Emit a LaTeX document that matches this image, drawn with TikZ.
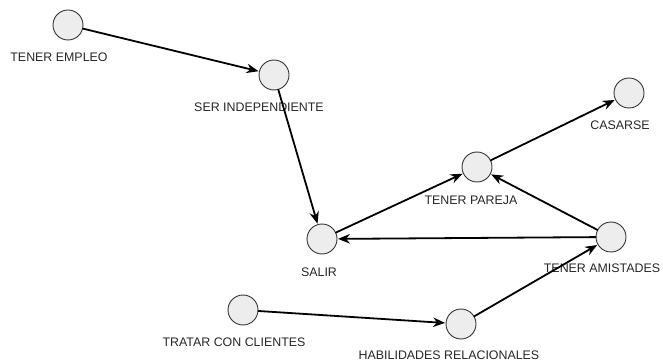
\documentclass[tikz,border=0pt]{standalone}
\usepackage{fontspec}
\setmainfont{Liberation Sans}
\usetikzlibrary{arrows.meta}
\colorlet{NodoFill}{black!7}
\colorlet{NodoLine}{black!80}
\begin{document}
\begin{tikzpicture}[x=1pt, y=-1pt, >={Stealth[length=12pt,width=9.5pt]},
	line cap=round, line join=round,
	nodo/.style={circle, draw=NodoLine, fill=NodoFill, line width=0.9pt,
		minimum size=30pt, inner sep=0pt},
	etiq/.style={font=\fontsize{12.4}{14}\selectfont, text=black!85, inner sep=0pt},
	flecha/.style={->, line width=1.8pt, shorten >=0.5pt}]
	
	\useasboundingbox (0,0) rectangle (663,363);
	
	% -- Nodes ---------------------------------------------------
	\node[nodo] (empleo)  at (68,25)  {};
	\node[nodo] (indep)   at (274,75) {};
	\node[nodo] (salir)   at (322,239) {};
	\node[nodo] (pareja)  at (477,167) {};
	\node[nodo] (casarse) at (629,93) {};
	\node[nodo] (amist)   at (611,237) {};
	\node[nodo] (tratar)  at (243,310) {};
	\node[nodo] (habil)   at (461,324) {};
	
	% -- Labels --------------------------------------------------
	\node[etiq] (l-empleo)  at (59,57)   {TENER EMPLEO};
	\node[etiq] (l-indep)   at (259,107) {SER INDEPENDIENTE};
	\node[etiq] (l-salir)   at (319,272) {SALIR};
	\node[etiq] (l-pareja)  at (471,200) {TENER PAREJA};
	\node[etiq] (l-casarse) at (620,125) {CASARSE};
	\node[etiq] (l-amist)   at (602,268) {TENER AMISTADES};
	\node[etiq] (l-tratar)  at (234,342) {TRATAR CON CLIENTES};
	\node[etiq] (l-habil)   at (449,355) {HABILIDADES RELACIONALES};
	
	% -- Arrows --------------------------------------------------
	\draw[flecha] (empleo) -- (indep);
	\draw[flecha] (indep)  -- (salir);
	\draw[flecha] (salir)  -- (pareja);
	\draw[flecha] (pareja) -- (casarse);
	\draw[flecha] (amist)  -- (pareja);
	\draw[flecha] (amist)  -- (salir);
	\draw[flecha] (tratar) -- (habil);
	\draw[flecha] (habil)  -- (amist);
	
\end{tikzpicture}
\end{document}
